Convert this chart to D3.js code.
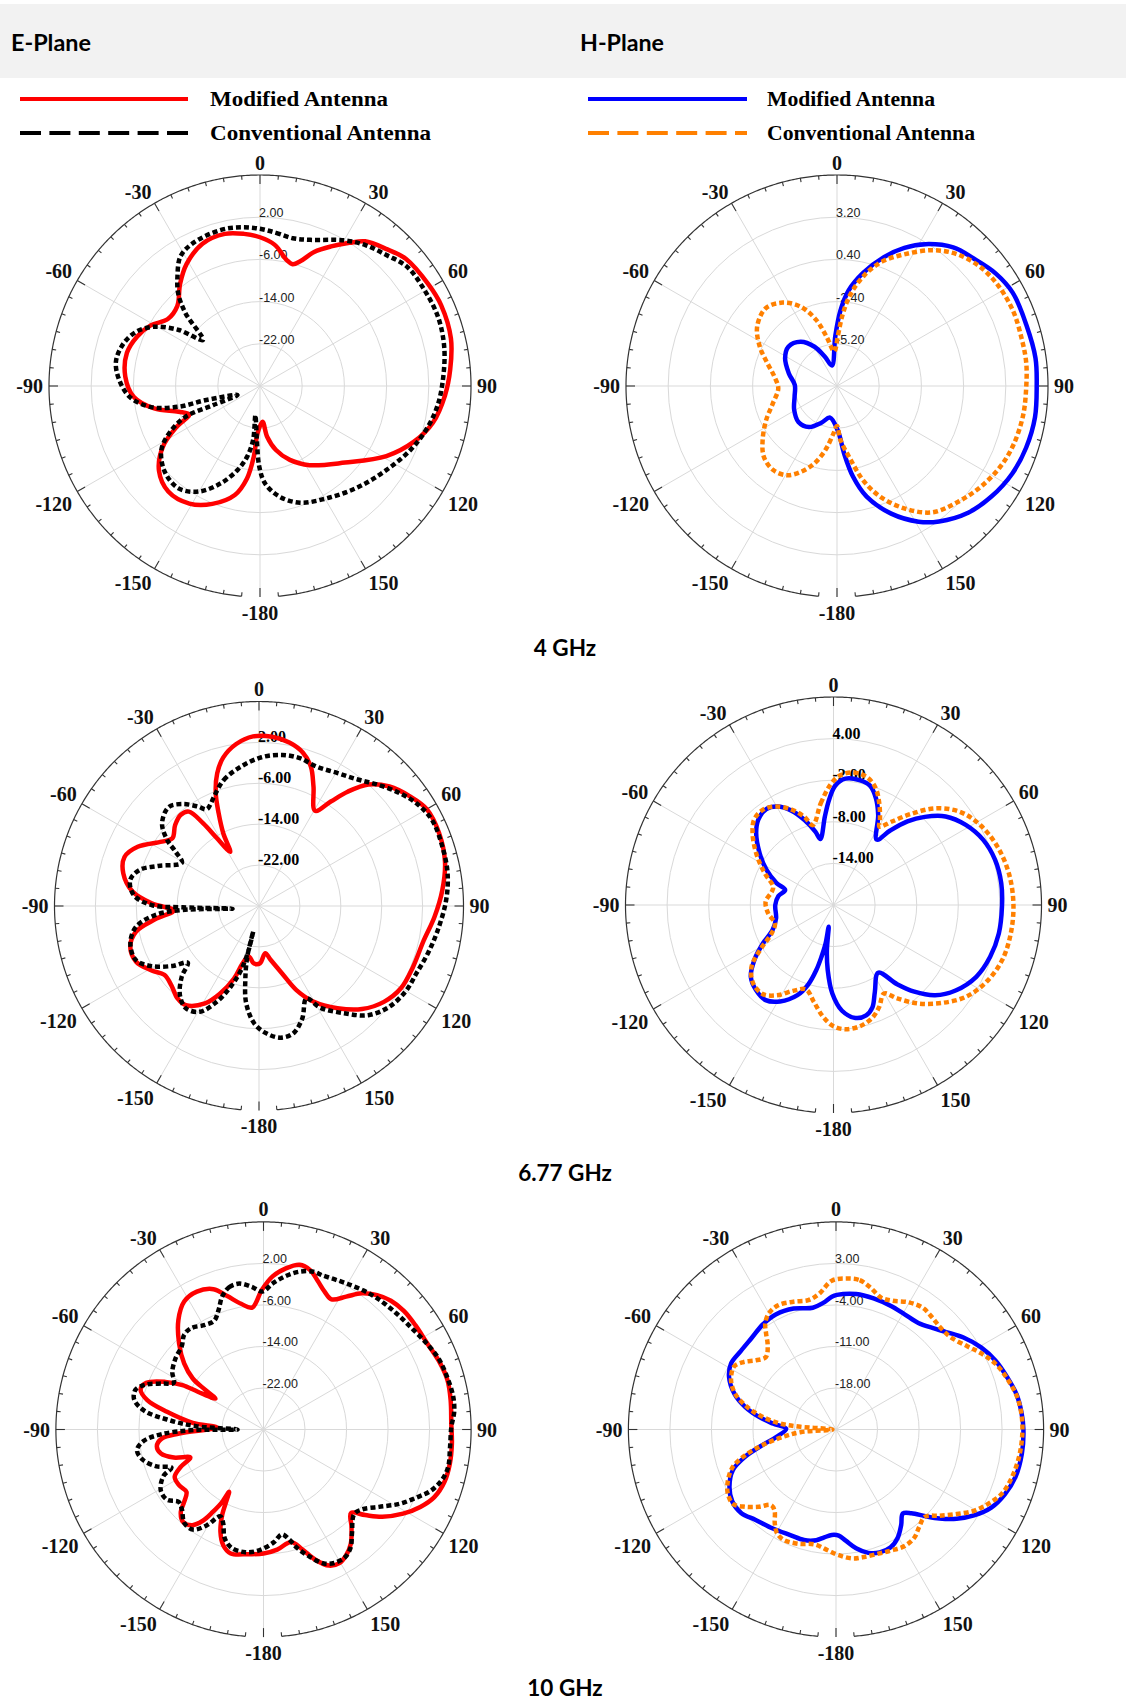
<!DOCTYPE html>
<html>
<head>
<meta charset="utf-8">
<script src="https://cdn.jsdelivr.net/npm/d3@7"></script>
<style>
  body { margin: 0; background: #fff; }
  svg { display: block; }
</style>
</head>
<body>
<svg id="chart" width="1126" height="1701"></svg>
<script>
// ---------------------------------------------------------------
// Radiation patterns, [angle in degrees, gain in dB], listed in
// drawing order around each closed pattern.
// ---------------------------------------------------------------

// 4 GHz, E-plane
const e4Modified = [[0,-1.8],[6,-3.1],[12,-5.6],[15,-6.1],[18,-5.1],[22,-2.6],[27,-0.3],[32,2.0],[36,3.9],[43,5.4],[49,6.7],[59,7.3],[66,7.6],[76,7.3],[85,6.2],[93,5.1],[102,3.5],[110,1.0],[119,-2.6],[132,-8.3],[148,-12.3],[158,-14.9],[166,-17.5],[172,-20.3],[176,-23.2],[-177,-21.0],[-175,-16.6],[-172,-12.3],[-167,-8.8],[-158,-5.9],[-149,-4.0],[-139,-3.5],[-130,-5.0],[-122,-8.3],[-116,-12.5],[-112,-15.5],[-107.5,-13.8],[-102,-9.5],[-95,-6.0],[-86,-4.4],[-76,-4.0],[-68,-4.9],[-61,-6.3],[-54,-8.4],[-46,-8.2],[-38,-5.4],[-31,-3.0],[-22,-0.9],[-13,-0.4],[-6,-1.0]];
const e4Conventional = [[0,-0.2],[6,-0.8],[12.5,-1.3],[19,-0.7],[30,1.9],[37,3.4],[44,4.5],[51,5.9],[60,6.1],[69,6.2],[78,5.7],[87,4.8],[96,3.9],[104,2.7],[113,1.0],[124,-1.3],[136,-3.3],[149,-5.2],[161,-6.6],[170,-8.7],[177,-11.5],[-179.5,-14.7],[-176.7,-19.7],[-171,-24.4],[-172.7,-19.7],[-169.7,-16.4],[-165,-13.5],[-158,-10.1],[-150,-6.9],[-141.5,-5.2],[-132,-5.7],[-123,-7.7],[-117,-10.9],[-112.4,-14.8],[-112.2,-20.4],[-111.8,-25.4],[-104.6,-19.5],[-104.3,-14.1],[-101,-9.0],[-95,-5.3],[-87.6,-3.3],[-80.4,-2.3],[-72.7,-2.9],[-66,-4.5],[-60.6,-7.1],[-55.4,-11.3],[-51.1,-16.1],[-45.7,-10.3],[-41.5,-6.6],[-37,-4.0],[-31.6,-1.2],[-25.3,-0.1],[-14.3,0.5],[-6.8,0.3]];

// 4 GHz, H-plane
const h4Modified = [[-14,-6.6],[-2,-4.7],[2.6,-3.0],[7,-1.6],[13,-0.3],[20,1.1],[26,2.2],[32,3.1],[40,4.0],[47,4.4],[54.5,4.9],[62,5.2],[72,5.2],[82,5.3],[90,5.25],[99,5.3],[108,5.2],[116.5,5.0],[125.6,4.6],[134,4.1],[143,3.25],[149,2.5],[157,1.2],[165,-0.4],[170,-1.9],[174,-3.5],[178.7,-5.0],[-167.6,-5.85],[-157,-5.35],[-145.7,-4.7],[-133,-4.5],[-119,-4.75],[-104,-5.1],[-88.7,-5.2],[-75.4,-4.7],[-62,-4.1],[-51,-3.85],[-39.4,-4.2],[-29.8,-5.0],[-22.5,-5.9]];
const h4Conventional = [[-4.6,-5.7],[1.2,-4.6],[4.6,-3.2],[8.5,-1.8],[14,-0.4],[20,0.8],[27,1.8],[35,3.0],[42,3.8],[50,4.35],[58,4.6],[67,4.7],[75.5,4.65],[83,4.65],[91,4.55],[99,4.5],[108,4.35],[116,4.1],[125,3.65],[134,3.1],[143,2.5],[151,1.3],[158.6,-0.1],[164.5,-1.5],[169.4,-3.0],[176.3,-4.4],[180,-5.35],[-175.8,-4.85],[-169.8,-3.7],[-163.7,-2.65],[-157,-1.8],[-150.5,-1.2],[-142.6,-1.0],[-134,-1.25],[-126,-1.9],[-115.5,-2.8],[-105,-3.6],[-92.3,-4.1],[-81.5,-3.8],[-72,-3.15],[-63,-2.25],[-53.4,-1.4],[-42.5,-1.0],[-33,-1.4],[-24.7,-2.2],[-17.5,-3.4],[-12,-4.65]];

// 6.77 GHz, E-plane
const e677Modified = [[-28,-18.0],[-26.2,-14.2],[-23.5,-10.2],[-21,-6.4],[-17.5,-2.8],[-13.5,-0.1],[-8,2.0],[-2,3.2],[4.4,3.2],[10.7,2.5],[16,1.2],[20.4,-0.9],[24.5,-4.3],[30.5,-8.4],[34.5,-5.2],[37.8,-1.7],[42,2.0],[47.5,4.6],[54,6.5],[60,7.9],[68,8.0],[76.6,7.4],[85,6.0],[93.5,4.4],[102,2.9],[111.5,2.4],[120,2.1],[127.5,0.8],[135,-1.5],[142.5,-4.8],[150.4,-8.5],[156,-12.0],[161,-16.0],[168,-19.3],[172.5,-20.7],[179,-18.8],[-175,-18.7],[-168.5,-19.9],[-164,-18.3],[-161,-15.0],[-156,-11.2],[-151,-8.2],[-143.6,-5.9],[-138.6,-5.9],[-132,-6.9],[-126,-7.1],[-121,-5.5],[-114.4,-3.6],[-107.5,-3.6],[-101.8,-5.4],[-97.3,-9.5],[-93,-13.3],[-88.6,-9.0],[-83.5,-5.1],[-76.5,-2.7],[-70,-2.0],[-64,-3.6],[-56.5,-7.2],[-52,-8.5],[-46,-7.2],[-40.6,-6.5],[-36.6,-7.0],[-34,-10.5],[-31.8,-14.4]];
const e677Conventional = [[-23,-7.1],[-15.6,-4.4],[-7.3,-2.5],[1,-0.9],[8.8,-0.1],[15.4,0],[22.5,-0.5],[30.6,0.2],[38,1.4],[44.7,3.3],[51,5.2],[57,6.8],[63.6,7.8],[72,7.7],[80,7.45],[88,6.65],[97.6,5.3],[105.7,4.3],[113,3.5],[120,3.2],[127.8,2.2],[135,0.2],[141.5,-3.2],[149,-6.8],[152.8,-9.7],[159,-6.4],[165,-4.2],[170.7,-3.9],[176.5,-5.0],[-177.7,-7.0],[-172.5,-10.8],[-169.5,-15.3],[-167,-19.8],[-167.2,-24.9],[-166.8,-21.2],[-164.4,-17.0],[-160.7,-13.3],[-156.3,-9.6],[-150.8,-6.3],[-144.5,-5.4],[-138.4,-6.7],[-132.5,-9.5],[-128.5,-12.2],[-124.7,-9.4],[-119.2,-5.9],[-113.7,-3.7],[-106.2,-3.8],[-99.6,-5.6],[-95,-9.6],[-93,-15.0],[-95.7,-24.8],[-91,-15.1],[-89.5,-9.0],[-85,-5.4],[-78.6,-4.3],[-73.2,-5.6],[-68.3,-8.8],[-60.7,-12.7],[-56.9,-10.5],[-54.3,-7.9],[-49.6,-5.1],[-42.4,-3.8],[-36.8,-5.1],[-31.5,-7.2],[-28.4,-8.5],[-25,-7.8]];

// 6.77 GHz, H-plane
const h677Modified = [[-11.3,-10.3],[-5.6,-7.2],[-2.4,-4.8],[0.8,-2.8],[5.4,-1.7],[11.7,-1.6],[17,-2.0],[21.6,-3.4],[26.4,-5.5],[33.5,-8.7],[37.3,-6.5],[41.5,-3.9],[46,-1.7],[51.7,0.6],[58.8,2.3],[66.5,3.55],[74.4,4.2],[82.6,4.4],[90.6,4.3],[99.8,4.2],[108.3,3.8],[116.7,3.05],[125,1.5],[131.6,-0.4],[137,-2.9],[141.2,-5.35],[146.6,-8.3],[154.6,-6.1],[159.2,-4.2],[163.5,-3.4],[169,-3.4],[175.4,-4.7],[-179.3,-7.2],[-174.9,-10.6],[-171.7,-13.4],[-167.5,-16.8],[-168.4,-14.35],[-166.9,-12.3],[-165.2,-10.3],[-162.4,-8.0],[-158.2,-6.0],[-151,-4.1],[-144.5,-3.15],[-137.7,-3.4],[-131,-4.2],[-124.8,-6.1],[-118.6,-8.4],[-112.3,-10.5],[-103,-11.5],[-90,-11.6],[-80.7,-11.95],[-72.7,-12.7],[-69,-11.2],[-62.4,-9.1],[-55,-7.0],[-47.2,-4.8],[-41.4,-3.6],[-35,-3.1],[-29.7,-3.65],[-24,-5.1],[-18.7,-7.1],[-13.9,-9.1]];
const h677Conventional = [[-14.5,-8.1],[-7.1,-5.2],[-1.6,-2.7],[2.6,-1.35],[8.1,-0.7],[14.3,-0.9],[19.6,-2.0],[24.2,-3.9],[28.6,-6.0],[30.3,-6.9],[35,-5.3],[40.4,-2.75],[46.4,0.2],[53.4,2.6],[61.4,4.1],[70.4,5.1],[79.8,5.7],[89.5,5.95],[99,5.9],[108,5.6],[116.6,4.7],[124.7,3.25],[132,1.1],[139.4,-1.3],[145.7,-3.7],[150.3,-5.3],[155.8,-3.9],[161,-2.8],[167.7,-2.1],[174.5,-2.0],[180,-2.5],[-174.7,-3.8],[-168.5,-5.75],[-162,-7.2],[-155.2,-6.4],[-147.8,-4.6],[-141.6,-3.6],[-134.4,-3.8],[-127,-5.2],[-121,-7.8],[-114.6,-10.2],[-107.4,-11.15],[-97.3,-10.5],[-87.2,-10.2],[-77.8,-10.9],[-73,-10.9],[-65.3,-9.1],[-57,-6.8],[-49,-4.55],[-43,-3.2],[-36.5,-2.9],[-30.7,-3.5],[-24.2,-4.85],[-18.3,-6.6]];

// 10 GHz, E-plane
const e10Modified = [[-57.3,-19.0],[-55.7,-16.3],[-54.2,-13.2],[-50.2,-10.1],[-44.5,-6.8],[-37.9,-3.3],[-31.8,-1.0],[-25.8,-0.5],[-19.6,-1.3],[-15.2,-3.35],[-10.1,-5.4],[-5.3,-6.4],[-0.7,-3.1],[3.5,-0.4],[7.9,1.35],[12.4,2.5],[16.3,2.0],[20,0.5],[23.9,-0.95],[27.6,-1.7],[31.9,0.15],[35.8,2.35],[40.2,3.9],[44.7,4.9],[49.8,5.4],[55.5,5.5],[62.3,5.65],[68.9,6.3],[75,6.7],[81.1,6.5],[88.2,6.2],[94.3,6.4],[100.4,6.5],[106.1,6.3],[111.6,5.4],[116.3,3.7],[121.1,1.4],[126.3,-1.6],[130.1,-4.4],[133.7,-6.7],[137.9,-4.7],[142.6,-2.3],[146.7,-1.0],[150.4,-0.4],[154.3,-0.9],[158.3,-3.0],[162,-5.7],[166.2,-7.7],[173.5,-6.7],[180,-6.1],[-172.9,-5.8],[-165.2,-5.3],[-160.8,-6.4],[-157.2,-8.6],[-154.2,-11.7],[-152.5,-14.6],[-151.1,-16.3],[-150.3,-13.9],[-148.4,-11.35],[-146.3,-8.8],[-143.3,-7.0],[-139,-6.4],[-134.9,-7.5],[-132.4,-9.3],[-129,-10.9],[-123.4,-10.5],[-118.1,-10.6],[-114.3,-12.5],[-110.9,-14.9],[-107.4,-11.9],[-103.2,-9.7],[-98.9,-9.2],[-95.1,-10.3],[-92.7,-13.7],[-87.5,-21.0],[-84.6,-16.3],[-79.6,-11.1],[-75.8,-6.9],[-72,-5.1],[-68.3,-5.7],[-64.1,-9.0],[-61.3,-12.2],[-60.1,-15.4]];
const e10Conventional = [[-17.3,-3.2],[-13.6,-1.8],[-9.4,-1.5],[-4.8,-2.4],[-0.4,-3.4],[3.6,-1.8],[8.3,-0.1],[12.9,1.2],[17.6,1.9],[20.8,1.8],[25.2,2.0],[30.1,2.4],[35.8,3.0],[41.6,3.5],[48.8,4.0],[56.5,4.7],[62.5,5.6],[67.9,6.4],[74,6.8],[80.2,7.1],[84.7,6.9],[89.2,6.2],[95.3,6.1],[101.5,6.3],[105.9,5.7],[110.2,4.3],[113.9,2.3],[118.6,-0.1],[123.8,-3.2],[129.2,-5.6],[133.1,-6.1],[139.6,-3.7],[143.4,-1.8],[147.4,-0.8],[152.1,-0.9],[155.8,-1.7],[159.9,-3.85],[164.2,-6.3],[166.8,-8.2],[170.1,-9.5],[174.7,-8.2],[-177.9,-6.7],[-171.5,-6.1],[-164.8,-6.4],[-160.2,-7.85],[-156.8,-10.3],[-153.6,-11.3],[-149.3,-8.5],[-144.8,-6.4],[-139.7,-6.4],[-134.4,-8.0],[-130.4,-8.5],[-126,-7.0],[-120.6,-7.0],[-115,-8.7],[-112.5,-10.8],[-109,-8.2],[-104,-6.0],[-99.3,-5.3],[-95.4,-6.85],[-92.6,-10.4],[-90.5,-16.4],[-90,-25.0],[-87.2,-17.0],[-84.1,-11.3],[-81.1,-6.8],[-76.9,-4.4],[-72.6,-4.2],[-69,-5.8],[-65.3,-8.8],[-62.5,-10.5],[-57.7,-9.2],[-51,-8.2],[-44.4,-7.5],[-40,-6.2],[-35.6,-6.0],[-29.3,-6.9],[-24.4,-7.0],[-20.6,-5.4]];

// 10 GHz, H-plane
const h10Modified = [[0.4,-2.3],[8.5,-1.9],[16,-2.0],[24,-2.2],[30.8,-2.4],[37.7,-2.3],[43.5,-1.4],[48.5,-0.2],[54.2,1.5],[60.5,3.1],[66.7,4.3],[73.2,5.2],[78.9,6.0],[84.6,6.4],[90.2,6.6],[97.4,6.6],[104.8,6.3],[110.9,5.5],[116.7,4.3],[121.9,2.4],[126.5,0.3],[130.7,-2.0],[134.1,-4.0],[138,-6.0],[141.5,-6.9],[145.7,-5.5],[150.3,-4.0],[155.1,-3.1],[160.4,-3.0],[165.3,-3.5],[170.4,-4.7],[175,-6.2],[178.5,-7.1],[-177.7,-7.2],[-173.8,-6.7],[-169.9,-6.05],[-163.9,-5.6],[-156.6,-5.6],[-147.5,-5.2],[-138.4,-4.6],[-131.3,-3.7],[-124.9,-3.7],[-118.3,-4.6],[-111.5,-6.3],[-106.7,-9.0],[-102,-12.3],[-97,-14.9],[-89.2,-16.6],[-84.6,-14.3],[-80.7,-11.85],[-76,-9.2],[-70.8,-6.9],[-63.8,-4.9],[-57.8,-4.1],[-50.4,-4.2],[-42.4,-4.0],[-34.7,-3.4],[-27.4,-3.1],[-19.3,-3.4],[-10.8,-4.1],[-5.8,-3.55],[-1.8,-2.6]];
const h10Conventional = [[3.7,0.5],[9,0.5],[13.7,-0.4],[18.9,-1.5],[23.7,-1.3],[29.8,-0.3],[35.4,0.2],[40.7,-0.1],[45.6,-0.4],[51,-0.2],[57.6,1.2],[62.5,2.7],[67.7,4.1],[74.3,5.25],[80,6.05],[86.1,6.4],[92.5,6.4],[98.5,6.2],[105,5.75],[111.1,5.0],[116.2,3.5],[120.5,2.0],[125,-0.15],[129.8,-2.3],[134.5,-4.0],[139.5,-3.4],[144,-2.5],[149.5,-2.2],[155.7,-2.6],[161.8,-2.9],[168.4,-3.0],[172.9,-3.1],[178.7,-3.8],[-176,-4.6],[-169.4,-5.3],[-161.5,-4.7],[-154.8,-4.4],[-150.5,-4.85],[-146.9,-6.1],[-143,-7.8],[-139.4,-8.2],[-135.1,-6.6],[-130.4,-4.9],[-125.9,-3.6],[-120.6,-3.8],[-115.1,-4.9],[-109.9,-6.5],[-105.8,-9.1],[-102,-12.3],[-97.9,-16.0],[-94.3,-19.0],[-90,-24.4],[-85.7,-19.0],[-83.9,-15.5],[-80.2,-12.4],[-75.7,-9.5],[-70.6,-7.0],[-65.1,-5.5],[-58.4,-4.8],[-53.9,-5.7],[-49,-7.2],[-44,-8.0],[-39,-6.7],[-36.1,-5.0],[-33.7,-3.5],[-30.1,-2.4],[-25,-1.9],[-18.4,-2.3],[-12.1,-2.7],[-7.3,-2.0],[-1.6,0.1]];

// Radial ring values (dB) and their axis extents for each plot
const e4Rings   = [2, -6, -14, -22];      const e4Range   = [-30, 10];
const h4Rings   = [3.2, 0.4, -2.4, -5.2]; const h4Range   = [-8, 6];
const e677Rings = [2, -6, -14, -22];      const e677Range = [-30, 10];
const h677Rings = [4, -2, -8, -14];       const h677Range = [-20, 10];
const e10Rings  = [2, -6, -14, -22];      const e10Range  = [-30, 10];
const h10Rings  = [3, -4, -11, -18];      const h10Range  = [-25, 10];

// Angular tick labels (degrees)
const angleLabels = [0, 30, 60, 90, 120, 150, -180, -150, -120, -90, -60, -30];

// Text
const planeTitles = ["E-Plane", "H-Plane"];
const seriesNames = ["Modified Antenna", "Conventional Antenna"];
const frequencyLabels = ["4 GHz", "6.77 GHz", "10 GHz"];

// ---------------------------------------------------------------
const RED = "#ff0000", BLACK = "#000000", BLUE = "#0000ff", ORANGE = "#ff8000";
const rad = Math.PI / 180;
const svg = d3.select("#chart");

// header band
svg.append("rect").attr("x", 0).attr("y", 4).attr("width", 1126).attr("height", 74).attr("fill", "#f2f2f2");
const titleX = [11, 580], titleW = [80, 84];
svg.selectAll("text.plane").data(planeTitles).join("text")
  .attr("class", "plane")
  .attr("x", (d, i) => titleX[i])
  .attr("y", 51)
  .attr("font-family", "Lato, 'Open Sans', sans-serif")
  .attr("font-weight", 700)
  .attr("font-size", 22)
  .attr("textLength", (d, i) => titleW[i]).attr("lengthAdjust", "spacingAndGlyphs")
  .attr("fill", "#000")
  .text(d => d);

// legends
const legends = [
  { x0: 20, x1: 188, tx: 210, colors: [RED, BLACK], widths: [178, 221] },
  { x0: 588, x1: 747, tx: 767, colors: [BLUE, ORANGE], widths: [168, 208] }
];
legends.forEach(lg => {
  seriesNames.forEach((name, i) => {
    const y = i === 0 ? 99 : 133;
    svg.append("line")
      .attr("x1", lg.x0).attr("x2", lg.x1).attr("y1", y).attr("y2", y)
      .attr("stroke", lg.colors[i]).attr("stroke-width", 4)
      .attr("stroke-dasharray", i === 0 ? null : "21,8.4");
    svg.append("text")
      .attr("x", lg.tx).attr("y", y).attr("dy", "0.35em")
      .attr("font-family", "'Liberation Serif', 'Times New Roman', serif")
      .attr("font-weight", 700).attr("font-size", 20)
      .attr("textLength", lg.widths[i]).attr("lengthAdjust", "spacingAndGlyphs")
      .attr("fill", "#000")
      .text(name);
  });
});

// frequency captions
const captionY = [656, 1181, 1696];
svg.selectAll("text.freq").data(frequencyLabels).join("text")
  .attr("class", "freq")
  .attr("x", 565).attr("y", (d, i) => captionY[i])
  .attr("text-anchor", "middle")
  .attr("font-family", "Lato, 'Open Sans', sans-serif")
  .attr("font-weight", 700).attr("font-size", 22.5)
  .attr("fill", "#000")
  .text(d => d);

const panels = [
  { cx: 260, cy: 386,  R: 211,   range: e4Range,   rings: e4Rings,   serifRings: false,
    series: [{ data: e4Modified, color: RED }, { data: e4Conventional, color: BLACK, dashed: true }] },
  { cx: 837, cy: 386,  R: 211,   range: h4Range,   rings: h4Rings,   serifRings: false,
    series: [{ data: h4Modified, color: BLUE }, { data: h4Conventional, color: ORANGE, dashed: true }] },
  { cx: 259, cy: 906,  R: 204.5, range: e677Range, rings: e677Rings, serifRings: true,
    series: [{ data: e677Modified, color: RED }, { data: e677Conventional, color: BLACK, dashed: true }] },
  { cx: 833.5, cy: 905, R: 208,  range: h677Range, rings: h677Rings, serifRings: true,
    series: [{ data: h677Modified, color: BLUE }, { data: h677Conventional, color: ORANGE, dashed: true }] },
  { cx: 263.5, cy: 1429.5, R: 207.6, range: e10Range, rings: e10Rings, serifRings: false,
    series: [{ data: e10Modified, color: RED }, { data: e10Conventional, color: BLACK, dashed: true }] },
  { cx: 836, cy: 1429.5, R: 207.6, range: h10Range, rings: h10Rings, serifRings: false,
    series: [{ data: h10Modified, color: BLUE }, { data: h10Conventional, color: ORANGE, dashed: true }] }
];

function drawPanel(p) {
  const g = svg.append("g").attr("transform", `translate(${p.cx},${p.cy})`);
  const r = d3.scaleLinear().domain(p.range).range([0, p.R]);

  // grid rings
  g.selectAll("circle.ring").data(p.rings).join("circle")
    .attr("class", "ring").attr("r", d => r(d))
    .attr("fill", "none").attr("stroke", "#d9d9d9").attr("stroke-width", 1);

  // spokes every 30 degrees
  g.selectAll("line.spoke").data(d3.range(-180, 180, 30)).join("line")
    .attr("class", "spoke")
    .attr("x1", 0).attr("y1", 0)
    .attr("x2", a => p.R * Math.sin(a * rad))
    .attr("y2", a => -p.R * Math.cos(a * rad))
    .attr("stroke", "#d9d9d9").attr("stroke-width", 1);

  // outer angular axis, open around -180
  const axisArc = d3.lineRadial().angle(a => a * rad).radius(p.R);
  g.append("path")
    .attr("d", axisArc(d3.range(-175, 175.25, 0.5)))
    .attr("fill", "none").attr("stroke", "#333").attr("stroke-width", 1.2);

  // ticks every 5 degrees, longer at 30-degree marks
  g.selectAll("line.tick").data(d3.range(-180, 180, 5)).join("line")
    .attr("class", "tick")
    .attr("x1", a => (p.R - (a % 30 === 0 ? 9 : 4)) * Math.sin(a * rad))
    .attr("y1", a => -(p.R - (a % 30 === 0 ? 9 : 4)) * Math.cos(a * rad))
    .attr("x2", a => p.R * Math.sin(a * rad))
    .attr("y2", a => -p.R * Math.cos(a * rad))
    .attr("stroke", "#333").attr("stroke-width", 1.1);

  // angle labels: the corner of each label nearest the axis sits just outside it
  const D = p.R + 6;
  g.selectAll("text.angle").data(angleLabels).join("text")
    .attr("class", "angle")
    .attr("text-anchor", "middle").attr("dy", "0.35em")
    .attr("font-family", "'Liberation Serif', 'Times New Roman', serif")
    .attr("font-weight", 700).attr("font-size", 20).attr("fill", "#111")
    .text(d => String(d))
    .each(function (d) {
      const w = this.getComputedTextLength();
      const s = Math.sin(d * rad), c = Math.cos(d * rad);
      const sx = Math.abs(s) < 1e-6 ? 0 : Math.sign(s);
      const sy = Math.abs(c) < 1e-6 ? 0 : Math.sign(c);
      const halfH = sy < 0 ? 9.5 : 6.5;
      d3.select(this)
        .attr("x", D * s + sx * w / 2)
        .attr("y", -(D * c + sy * halfH));
    });

  // ring value labels along the 0-degree spoke
  g.selectAll("text.ringlabel").data(p.rings).join("text")
    .attr("class", "ringlabel")
    .attr("x", -1).attr("y", d => -r(d))
    .attr("font-family", p.serifRings ? "'Liberation Serif', 'Times New Roman', serif" : "'Liberation Sans', Arial, sans-serif")
    .attr("font-weight", p.serifRings ? 700 : 400)
    .attr("font-size", p.serifRings ? 16 : 12.5)
    .attr("fill", p.serifRings ? "#000" : "#222")
    .text(d => d.toFixed(2));

  // patterns
  const pattern = d3.lineRadial()
    .angle(d => d[0] * rad)
    .radius(d => r(d[1]))
    .curve(d3.curveCatmullRomClosed.alpha(0.5));
  p.series.forEach(s => {
    g.append("path")
      .attr("d", pattern(s.data))
      .attr("fill", "none")
      .attr("stroke", s.color)
      .attr("stroke-width", 4.5)
      .attr("stroke-linejoin", "round")
      .attr("stroke-dasharray", s.dashed ? "5,3" : null);
  });
}

panels.forEach(drawPanel);
</script>
